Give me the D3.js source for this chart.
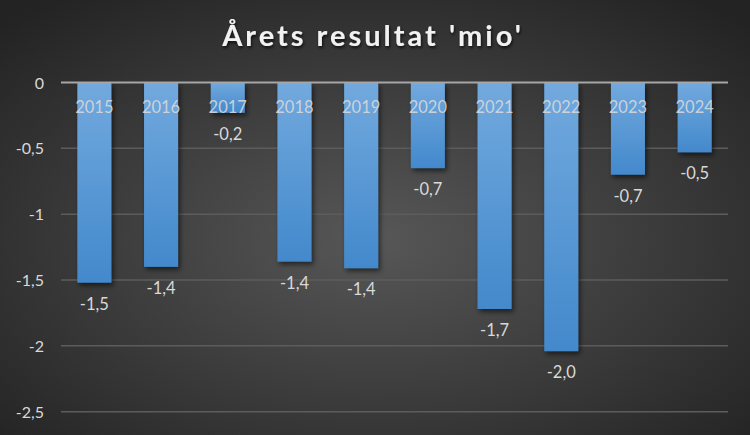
<!DOCTYPE html>
<html><head><meta charset="utf-8">
<script src="https://cdn.jsdelivr.net/npm/d3@7"></script>
<style>html,body{margin:0;padding:0;background:#2a2a2a;}svg{display:block;}</style>
</head><body>
<script>
const years = ["2015","2016","2017","2018","2019","2020","2021","2022","2023","2024"];
const values = [-1.52,-1.40,-0.23,-1.36,-1.41,-0.65,-1.72,-2.04,-0.70,-0.53];
const yTicks = [0,-0.5,-1,-1.5,-2,-2.5];
const title = "Årets resultat 'mio'";

const W=750,H=435;
const svg=d3.select("body").append("svg").attr("width",W).attr("height",H);
const defs=svg.append("defs");
const bg=defs.append("radialGradient").attr("id","bg").attr("cx","50%").attr("cy","55%").attr("r","70%");
bg.append("stop").attr("offset","0%").attr("stop-color","#575757");
bg.append("stop").attr("offset","100%").attr("stop-color","#232323");
const bar=defs.append("linearGradient").attr("id","bar").attr("x1",0).attr("y1",0).attr("x2",0).attr("y2",1);
bar.append("stop").attr("offset","0%").attr("stop-color","#72a9de");
bar.append("stop").attr("offset","100%").attr("stop-color","#4389cc");
const sh=defs.append("filter").attr("id","sh").attr("x","-20%").attr("y","-20%").attr("width","150%").attr("height","150%");
sh.append("feDropShadow").attr("dx",2).attr("dy",3).attr("stdDeviation",2.5).attr("flood-color","#000").attr("flood-opacity",0.55);
const tsh=defs.append("filter").attr("id","tsh");
tsh.append("feDropShadow").attr("dx",1).attr("dy",2).attr("stdDeviation",1.5).attr("flood-color","#000").attr("flood-opacity",0.7);

svg.append("rect").attr("width",W).attr("height",H).attr("fill","url(#bg)");

const x=d3.scaleBand().domain(years).range([61,728]).paddingInner(0.49).paddingOuter(0.245);
const y=d3.scaleLinear().domain([-2.5,0]).range([411.7,82.5]);
const font="Lato, 'Open Sans', sans-serif";
const fmt=v=>d3.format(".1f")(v).replace(".",",").replace("−","-");

// gridlines
svg.append("g").selectAll("line").data(yTicks.filter(d=>d!==0)).join("line")
  .attr("x1",61).attr("x2",728).attr("y1",d=>y(d)).attr("y2",d=>y(d))
  .attr("stroke","#5c5c5c").attr("stroke-width",1.5);

// y axis labels
const yAxis=d3.axisLeft(y).tickValues(yTicks).tickSize(0).tickPadding(0).tickFormat(d=>d===0?"0":String(d).replace(".",","));
const ga=svg.append("g").attr("transform","translate(44,0)").call(yAxis);
ga.select(".domain").remove();
ga.selectAll("text").attr("fill","#d9d9d9").attr("font-size",16).attr("font-family",font).attr("dy","0.35em");

// bars
svg.append("g").selectAll("rect").data(years).join("rect")
  .attr("x",d=>x(d)).attr("width",x.bandwidth())
  .attr("y",y(0)).attr("height",(d,i)=>y(values[i])-y(0))
  .attr("fill","url(#bar)").attr("filter","url(#sh)");

// zero line
svg.append("line").attr("x1",61).attr("x2",728).attr("y1",y(0)).attr("y2",y(0))
  .attr("stroke","#a6a6a6").attr("stroke-width",2);

// category labels
svg.append("g").selectAll("text").data(years).join("text")
  .attr("x",d=>x(d)+x.bandwidth()/2).attr("y",113)
  .attr("text-anchor","middle").attr("fill","#d9d9d9").attr("fill-opacity",0.9)
  .attr("font-size",16.5).attr("font-family",font).text(d=>d);

// data labels
svg.append("g").selectAll("text").data(years).join("text")
  .attr("x",d=>x(d)+x.bandwidth()/2).attr("y",(d,i)=>y(values[i])+27)
  .attr("text-anchor","middle").attr("fill","#d9d9d9")
  .attr("font-size",16.5).attr("font-family",font).text((d,i)=>fmt(values[i]));

// title
svg.append("text").attr("x",373).attr("y",46).attr("text-anchor","middle")
  .attr("fill","#f2f2f2").attr("font-size",29).attr("font-weight","bold")
  .attr("letter-spacing",3).attr("font-family",font).attr("filter","url(#tsh)").text(title);
</script>
</body></html>
